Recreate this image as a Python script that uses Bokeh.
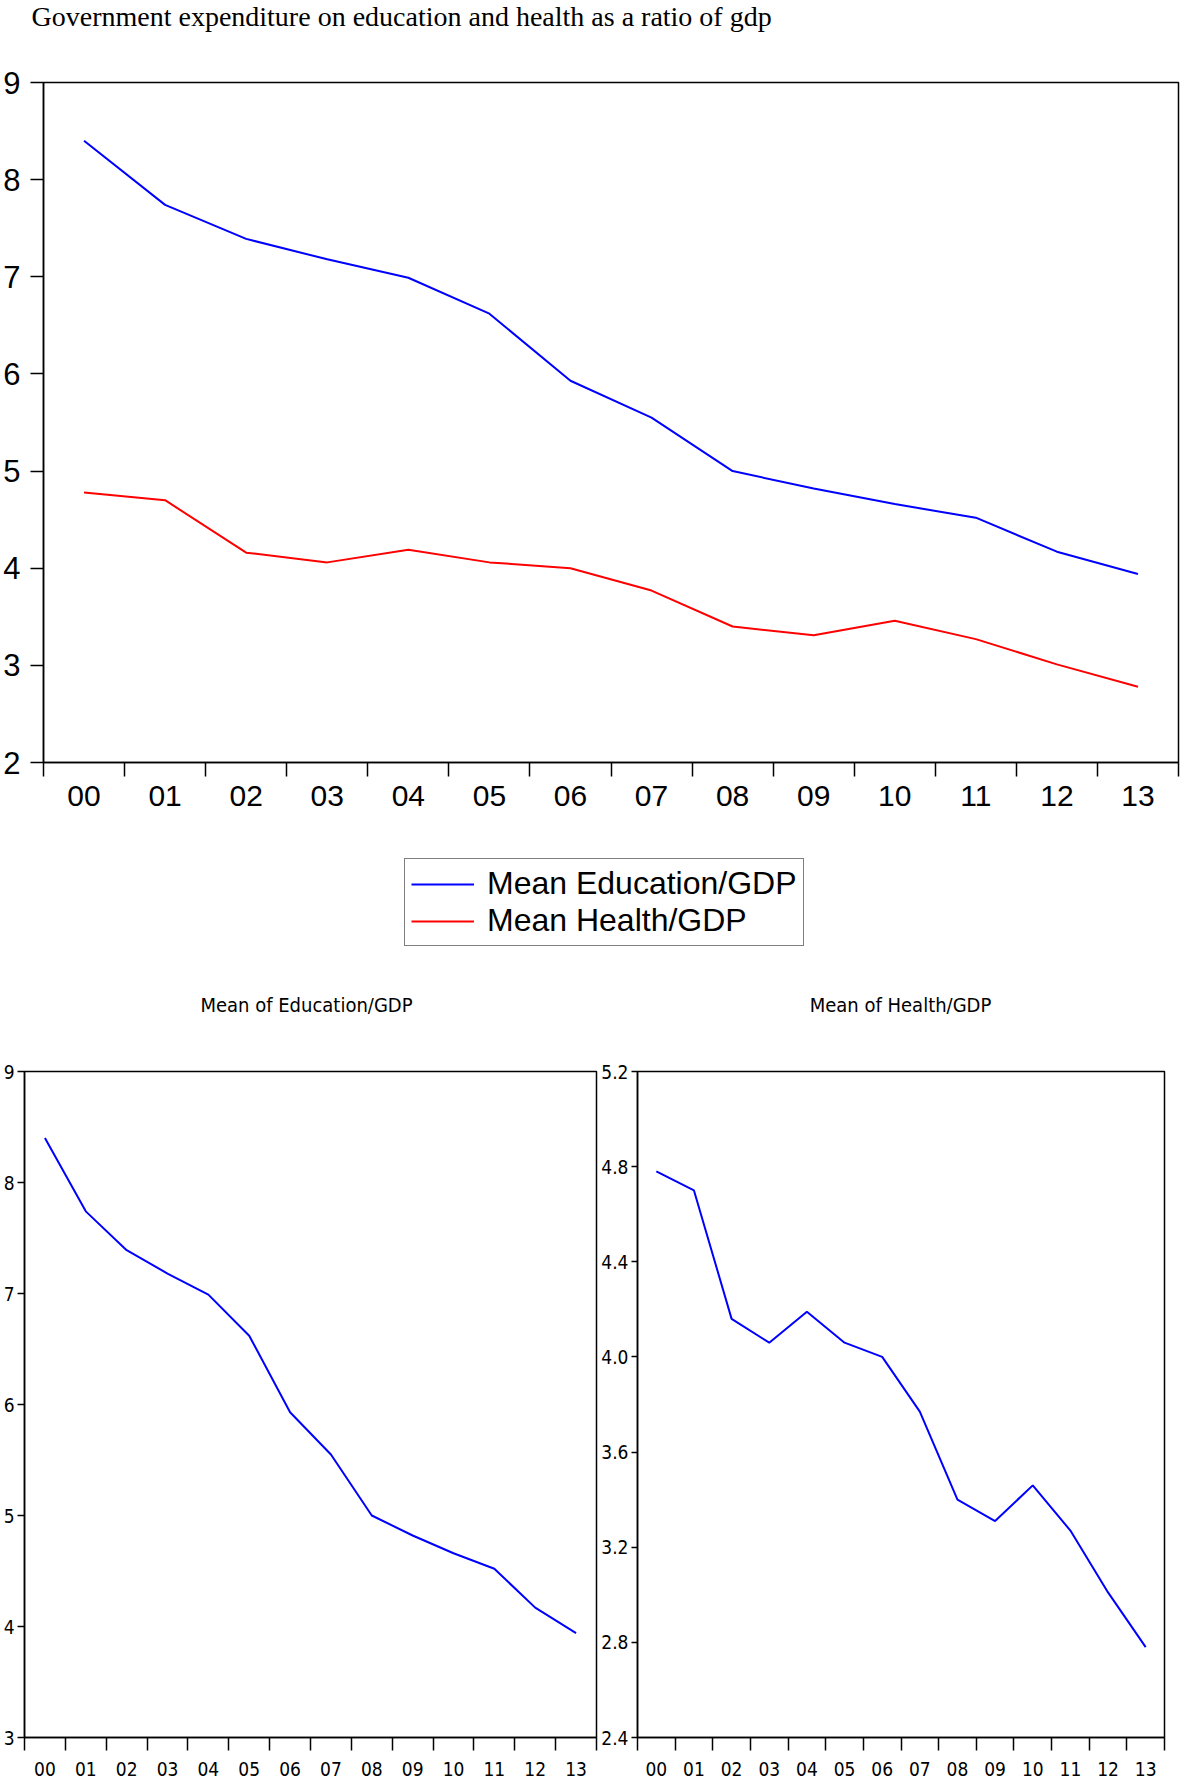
from bokeh.plotting import figure
from bokeh.models import Range1d, FixedTicker, Legend, LegendItem, Label
from bokeh.layouts import column, row
from bokeh.embed import file_html
from bokeh.resources import INLINE

# ---------------- data ----------------
years = ["00", "01", "02", "03", "04", "05", "06", "07", "08", "09", "10", "11", "12", "13"]
education = [8.40, 7.74, 7.39, 7.18, 6.99, 6.62, 5.93, 5.55, 5.00, 4.82, 4.66, 4.52, 4.17, 3.94]
health = [4.78, 4.70, 4.16, 4.06, 4.19, 4.06, 4.00, 3.77, 3.40, 3.31, 3.46, 3.27, 3.01, 2.78]
top_yticks = [2, 3, 4, 5, 6, 7, 8, 9]
top_ytick_labels = ["2", "3", "4", "5", "6", "7", "8", "9"]
edu_yticks = [3, 4, 5, 6, 7, 8, 9]
edu_ytick_labels = ["3", "4", "5", "6", "7", "8", "9"]
health_yticks = [2.4, 2.8, 3.2, 3.6, 4.0, 4.4, 4.8, 5.2]
health_ytick_labels = ["2.4", "2.8", "3.2", "3.6", "4.0", "4.4", "4.8", "5.2"]

main_title = "Government expenditure on education and health as a ratio of gdp"
edu_title = "Mean of Education/GDP"
health_title = "Mean of Health/GDP"
edu_label = "Mean Education/GDP"
health_label = "Mean Health/GDP"

xs = list(range(len(years)))
bounds = [i - 0.5 for i in range(len(years) + 1)]

SANS = "Liberation Sans"
NARROW = "'Liberation Sans Narrow', 'DejaVu Sans Condensed', 'Liberation Sans'"
BLUE = "#0000ff"
RED = "#ff0000"


def style(p, yticks, ylabels, xfont, xsize, yfont, ysize, xtick_len, ytick_len, xstand, ystand, lw):
    p.xgrid.visible = False
    p.ygrid.visible = False
    p.outline_line_color = "black"
    p.outline_line_width = lw
    p.background_fill_color = "white"
    p.border_fill_color = "white"
    xa = p.xaxis[0]
    xa.ticker = FixedTicker(ticks=xs, minor_ticks=bounds)
    xa.major_label_overrides = {i: lab for i, lab in zip(xs, years)}
    xa.major_tick_out = 0
    xa.major_tick_in = 0
    xa.minor_tick_out = xtick_len
    xa.minor_tick_in = 0
    xa.minor_tick_line_color = "black"
    xa.minor_tick_line_width = lw
    xa.axis_line_color = "black"
    xa.axis_line_width = lw
    xa.major_label_text_font = xfont
    xa.major_label_text_font_size = xsize
    xa.major_label_text_color = "black"
    xa.major_label_standoff = xstand
    ya = p.yaxis[0]
    ya.ticker = FixedTicker(ticks=yticks, minor_ticks=[])
    ya.major_label_overrides = {t: lab for t, lab in zip(yticks, ylabels)}
    ya.major_tick_out = ytick_len
    ya.major_tick_in = 0
    ya.major_tick_line_color = "black"
    ya.major_tick_line_width = lw
    ya.minor_tick_out = 0
    ya.minor_tick_in = 0
    ya.axis_line_color = "black"
    ya.axis_line_width = lw
    ya.major_label_text_font = yfont
    ya.major_label_text_font_size = ysize
    ya.major_label_text_color = "black"
    ya.major_label_standoff = ystand


def blank(width, height, title=None):
    # an empty panel (no axes, no outline) used to hold texts and the legend
    b = figure(width=width, height=height, output_backend="svg", toolbar_location=None,
               x_range=Range1d(100, 101), y_range=Range1d(100, 101),
               x_axis_location=None, y_axis_location=None, title=title,
               min_border_left=0, min_border_right=0, min_border_top=0, min_border_bottom=0)
    b.xgrid.visible = False
    b.ygrid.visible = False
    b.outline_line_color = None
    b.background_fill_color = "white"
    b.border_fill_color = "white"
    return b


def add_text(p, text, font, size, x, y, align):
    p.add_layout(Label(x=x, y=y, x_units="screen", y_units="screen", text=text,
                       text_font=font, text_font_size=size, text_color="black",
                       text_align=align, text_baseline="alphabetic"))


# ---------------- main title ----------------
head = blank(1181, 40, title=main_title)
head.title.text_font = "Liberation Serif"
head.title.text_font_size = "28px"
head.title.text_font_style = "normal"
head.title.text_color = "black"
head.title.align = "left"
head.title.vertical_align = "top"
head.title.standoff = 0
head.title.offset = -12

# ---------------- top chart ----------------
top = figure(width=1181, height=778, output_backend="svg", toolbar_location=None,
             x_range=Range1d(-0.5, 13.5), y_range=Range1d(2, 9),
             min_border_left=41, min_border_right=3, min_border_top=42, min_border_bottom=56)
style(top, top_yticks, top_ytick_labels, SANS, "30px", SANS, "31px", 14, 13, 9, 10, 1.5)
top.line(xs, education, line_color=BLUE, line_width=2)
top.line(xs, health, line_color=RED, line_width=2)

# ---------------- legend + titles of the two small charts ----------------
# (this panel's frame is aligned with the top chart's frame, which starts at x=41)
mid = blank(1181, 212)
r_edu = mid.line(xs, education, line_color=BLUE, line_width=2)
r_hea = mid.line(xs, health, line_color=RED, line_width=2)
legend = Legend(items=[LegendItem(label=edu_label, renderers=[r_edu]),
                       LegendItem(label=health_label, renderers=[r_hea])],
                location=(361, 84), orientation="vertical")
legend.label_text_font = SANS
legend.label_text_font_size = "32px"
legend.label_text_color = "black"
legend.border_line_color = "black"
legend.border_line_width = 1.5
legend.background_fill_color = "white"
legend.background_fill_alpha = 1.0
legend.glyph_width = 63
legend.glyph_height = 30
legend.label_height = 30
legend.spacing = 0
legend.padding = 6
legend.label_standoff = 13
legend.margin = 0
mid.add_layout(legend, "center")
add_text(mid, edu_title, NARROW, "20px", 263, 26, "center")
add_text(mid, health_title, NARROW, "20px", 857, 26, "center")

# ---------------- bottom left ----------------
bl = figure(width=598, height=751, output_backend="svg", toolbar_location=None,
            x_range=Range1d(-0.5, 13.5), y_range=Range1d(3, 9),
            min_border_left=21, min_border_right=2, min_border_top=41, min_border_bottom=44)
style(bl, edu_yticks, edu_ytick_labels, NARROW, "19px", NARROW, "19px", 13, 7, 11, 3, 1.5)
bl.line(xs, education, line_color=BLUE, line_width=2)

# ---------------- bottom right ----------------
br = figure(width=583, height=751, output_backend="svg", toolbar_location=None,
            x_range=Range1d(-0.5, 13.5), y_range=Range1d(2.4, 5.2),
            min_border_left=34, min_border_right=17, min_border_top=41, min_border_bottom=44)
style(br, health_yticks, health_ytick_labels, NARROW, "19px", NARROW, "19px", 13, 6, 11, 3, 1.5)
br.line(xs, health, line_color=BLUE, line_width=2)

layout = column(head, top, mid, row(bl, br))
open("out.html", "w").write(file_html(layout, INLINE))
